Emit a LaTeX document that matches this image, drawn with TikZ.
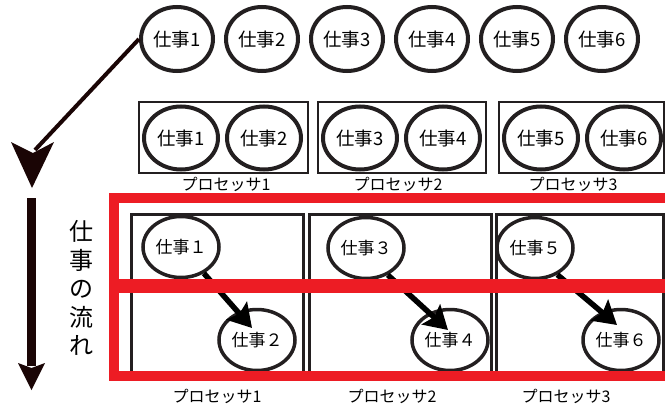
\documentclass[tikz,border=0pt]{standalone}
\usepackage{fontspec}
\setmainfont{Noto Sans CJK JP}
\usetikzlibrary{shapes.geometric,arrows.meta}
\definecolor{redf}{RGB}{237,28,36}
\definecolor{ink}{RGB}{35,31,32}
\definecolor{darkarr}{RGB}{26,5,5}
\begin{document}
\begin{tikzpicture}[x=1pt,y=-1pt,
  job/.style={ellipse, draw=ink, line width=4pt, inner sep=0pt, minimum width=72pt, minimum height=64pt, font=\fontsize{18.5}{20}\selectfont},
  jobm/.style={job, minimum width=74pt, minimum height=63pt},
  jobl/.style={ellipse, draw=ink, line width=3.5pt, inner sep=0pt, minimum width=76pt, minimum height=61pt, font=\fontsize{17}{20}\selectfont},
  lab/.style={inner sep=0pt, font=\fontsize{16}{18}\selectfont},
  pbox/.style={draw=ink, line width=1.3pt},
  lbox/.style={draw=ink, line width=3pt},
  flowarr/.style={-{Stealth[length=23pt,width=27pt,inset=4pt]}, line width=5.5pt, black},
  redline/.style={draw=redf, line width=10pt}
]
\useasboundingbox (0,0) rectangle (665,407);
\clip (0,0) rectangle (665,407);

% diagonal arrow
\foreach \i/\x in {1/177,2/262,3/347,4/432,5/517,6/602}
  \node[job] (t\i) at (\x,39) {仕事\i};
\coordinate (dA) at (35,150);
\draw[darkarr, line width=4pt] (t1.west) -- (dA);
\fill[darkarr] (11,142) -- (33,153) -- (54,142) -- (32,188) -- cycle;

% middle row
\draw[pbox] (139,102) rectangle (308,173);
\draw[pbox] (318,102) rectangle (486,173);
\draw[pbox] (499,102) rectangle (664,173);
\foreach \i/\x in {1/181,2/264,3/360,4/443,5/541,6/624}
  \node[jobm] (m\i) at (\x,138) {仕事\i};
\node[lab] (p1) at (226,184) {プロセッサ1};
\node[lab] (p2) at (398,184) {プロセッサ2};
\node[lab] (p3) at (573,184) {プロセッサ3};

% vertical arrow and text
\coordinate (vS) at (31.5,198);
\coordinate (vE) at (31.5,366);
\draw[darkarr, line width=9pt] (vS) -- (vE);
\fill[darkarr] (18,363) -- (31.5,368) -- (45,363) -- (31.5,390) -- cycle;
\node[inner sep=0pt, align=center, font=\fontsize{24}{28.5}\selectfont] (flow) at (81,288) {仕\\事\\の\\流\\れ};

% lower boxes
\draw[lbox] (131,214) rectangle (303,376);
\draw[lbox] (309,214) rectangle (491,376);
\draw[lbox] (496,214) rectangle (663,376);

\node[jobl] (e1) at (181,247) {仕事１};
\node[jobl] (e2) at (257,340) {仕事２};
\node[jobl] (e3) at (366,248) {仕事３};
\node[jobl] (e4) at (450,340) {仕事４};
\node[jobl] (e5) at (535,248) {仕事５};
\node[jobl] (e6) at (621,340) {仕事６};

\draw[flowarr] (e1.-49) -- ([shift={(-5,-12)}]e2.center);
\draw[flowarr] (e3.-51) -- ([shift={(-2,-10)}]e4.center);
\draw[flowarr] (e5.-50) -- ([shift={(-4,-15)}]e6.center);

% red frame
\draw[redline] (113.5,197.5) rectangle (672,376);
\draw[redline, line width=14pt] (113.5,286) -- (672,286);

\node[lab] (q1) at (217,396) {プロセッサ1};
\node[lab] (q2) at (392,396) {プロセッサ2};
\node[lab] (q3) at (566,396) {プロセッサ3};
\end{tikzpicture}
\end{document}
